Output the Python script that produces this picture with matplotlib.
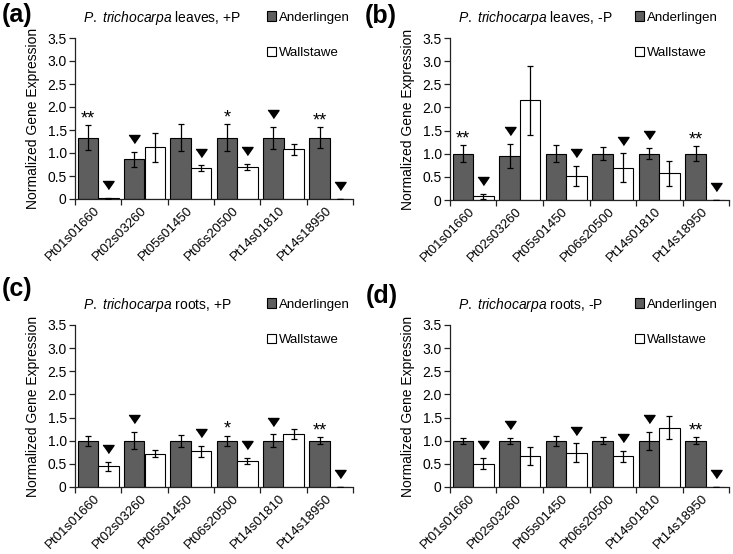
import matplotlib
matplotlib.use('Agg')
import matplotlib.pyplot as plt
from matplotlib.patches import Patch

plt.rcParams['font.family'] = ['Liberation Sans', 'DejaVu Sans']
plt.rcParams['mathtext.fontset'] = 'custom'
plt.rcParams['mathtext.rm'] = 'Liberation Sans'
plt.rcParams['mathtext.it'] = 'Liberation Sans:italic'

# ---------------- data ----------------
genes = ['Pt01s01660', 'Pt02s03260', 'Pt05s01450', 'Pt06s20500', 'Pt14s01810', 'Pt14s18950']
series = ['Anderlingen', 'Wallstawe']
yticks = [0, 0.5, 1.0, 1.5, 2.0, 2.5, 3.0, 3.5]
ytick_labels = ['0', '0.5', '1.0', '1.5', '2.0', '2.5', '3.0', '3.5']
panel_labels = ['(a)', '(b)', '(c)', '(d)']
titles = [r'$\it{P.\ trichocarpa}$ leaves, +P',
          r'$\it{P.\ trichocarpa}$ leaves, -P',
          r'$\it{P.\ trichocarpa}$ roots, +P',
          r'$\it{P.\ trichocarpa}$ roots, -P']

# (a) leaves +P
a_and = [1.33, 0.86, 1.33, 1.33, 1.33, 1.33]
a_and_err = [0.27, 0.16, 0.29, 0.29, 0.24, 0.23]
a_wal = [0.02, 1.12, 0.67, 0.69, 1.08, 0.01]
a_wal_err = [0.01, 0.32, 0.06, 0.065, 0.12, 0.0]
# marks: (gene index, series index, symbol)
a_marks = [(0, 0, '**'), (0, 1, 'v'), (1, 0, 'v'), (2, 1, 'v'), (3, 0, '*'),
           (3, 1, 'v'), (4, 0, 'v'), (5, 0, '**'), (5, 1, 'v')]

# (b) leaves -P
b_and = [1.0, 0.95, 1.0, 1.0, 1.0, 1.0]
b_and_err = [0.18, 0.25, 0.18, 0.145, 0.12, 0.165]
b_wal = [0.08, 2.15, 0.52, 0.70, 0.58, 0.0]
b_wal_err = [0.055, 0.75, 0.22, 0.305, 0.27, 0.0]
b_marks = [(0, 0, '**'), (0, 1, 'v'), (1, 0, 'v'), (2, 1, 'v'), (3, 1, 'v'),
           (4, 0, 'v'), (5, 0, '**'), (5, 1, 'v')]

# (c) roots +P
c_and = [1.0, 1.0, 1.0, 1.0, 1.0, 1.0]
c_and_err = [0.11, 0.185, 0.125, 0.11, 0.135, 0.075]
c_wal = [0.45, 0.72, 0.77, 0.565, 1.15, 0.0]
c_wal_err = [0.10, 0.08, 0.12, 0.07, 0.11, 0.0]
c_marks = [(0, 1, 'v'), (1, 0, 'v'), (2, 1, 'v'), (3, 0, '*'), (3, 1, 'v'),
           (4, 0, 'v'), (5, 0, '**'), (5, 1, 'v')]

# (d) roots -P
d_and = [1.0, 1.0, 1.0, 1.0, 0.985, 1.0]
d_and_err = [0.065, 0.065, 0.11, 0.07, 0.195, 0.07]
d_wal = [0.50, 0.67, 0.74, 0.66, 1.28, 0.0]
d_wal_err = [0.12, 0.20, 0.20, 0.12, 0.25, 0.0]
d_marks = [(0, 1, 'v'), (1, 0, 'v'), (2, 1, 'v'), (3, 1, 'v'), (4, 0, 'v'),
           (5, 0, '**'), (5, 1, 'v')]

panels = [
    (a_and, a_and_err, a_wal, a_wal_err, a_marks),
    (b_and, b_and_err, b_wal, b_wal_err, b_marks),
    (c_and, c_and_err, c_wal, c_wal_err, c_marks),
    (d_and, d_and_err, d_wal, d_wal_err, d_marks),
]

# ---------------- layout ----------------
W, H = 733, 554
fig = plt.figure(figsize=(W / 100, H / 100), dpi=100)

# axes boxes in pixels: left, right, top(3.5), bottom(0)
boxes = [(75, 353, 38, 199), (450, 729, 38, 200), (75, 353, 325, 487), (450, 729, 325, 487)]
label_pos = [(2, 15), (365, 16), (2, 289), (366, 296)]
legend_x = [0.69, 0.663, 0.69, 0.663]

dark = '#5e5e5e'
bw = 0.44
tri = [(-1, 0.72), (1, 0.72), (0, -0.72)]

for k, (box, data) in enumerate(zip(boxes, panels)):
    l, r, t, b = box
    ax = fig.add_axes([l / W, 1 - b / H, (r - l) / W, (b - t) / H])
    and_v, and_e, wal_v, wal_e, marks = data
    xs = [i + 0.5 for i in range(len(genes))]
    xa = [x - bw / 2 for x in xs]
    xw = [x + bw / 2 for x in xs]
    ax.bar(xa, and_v, width=bw, color=dark, edgecolor='black', linewidth=0.8, zorder=2)
    ax.bar(xw, wal_v, width=bw, color='white', edgecolor='black', linewidth=0.8, zorder=2)
    ax.errorbar(xa, and_v, yerr=and_e, fmt='none', ecolor='black', elinewidth=0.9,
                capsize=2, capthick=0.9, zorder=3)
    ax.errorbar(xw, wal_v, yerr=wal_e, fmt='none', ecolor='black', elinewidth=0.9,
                capsize=2, capthick=0.9, zorder=3)

    for gi, si, sym in marks:
        x = xa[gi] if si == 0 else xw[gi]
        top = (and_v[gi] + and_e[gi]) if si == 0 else (wal_v[gi] + wal_e[gi])
        if sym == 'v':
            ax.plot([x], [top + 0.28], marker=tri, markersize=8, color='black',
                    linestyle='none', zorder=4, clip_on=False)
        else:
            ax.annotate(sym, xy=(x, top), xytext=(0, 1.5), textcoords='offset points',
                        ha='center', va='baseline', fontsize=13, zorder=4)

    ax.set_xlim(0, 6)
    ax.set_ylim(0, 3.5)
    ax.set_yticks(yticks)
    ax.set_yticklabels(ytick_labels, fontsize=10)
    ax.set_xticks(range(0, 7))
    ax.set_xticklabels([])
    ax.set_xticks(xs, minor=True)
    ax.set_xticklabels(genes, minor=True, rotation=45, ha='right', va='center',
                       rotation_mode='anchor', fontsize=9.5)
    ax.tick_params(axis='x', which='minor', length=0, pad=7)
    ax.tick_params(axis='x', which='major', direction='out', length=4, width=0.9, color='#222222')
    ax.tick_params(axis='y', direction='out', length=4, width=0.9, color='#222222', pad=2)
    for s in ['top', 'right']:
        ax.spines[s].set_visible(False)
    for s in ['left', 'bottom']:
        ax.spines[s].set_linewidth(0.9)
        ax.spines[s].set_color('#222222')
    ax.set_ylabel('Normalized Gene Expression', fontsize=10, labelpad=5)
    ax.patch.set_visible(False)

    handles = [Patch(facecolor=dark, edgecolor='black', linewidth=0.8),
               Patch(facecolor='white', edgecolor='black', linewidth=0.8)]
    ax.legend(handles, series, loc='upper left', bbox_to_anchor=(legend_x[k], 1.165),
              frameon=False, borderpad=0, borderaxespad=0, handlelength=0.7,
              handleheight=0.7, handletextpad=0.2, labelspacing=1.75, fontsize=9.5)

    ax.text(8 / (r - l), 1 + 20 / (b - t), titles[k], transform=ax.transAxes,
            ha='left', va='center', fontsize=10)

    px, py = label_pos[k]
    fig.text(px / W, 1 - py / H, panel_labels[k], ha='left', va='center',
             fontsize=18, fontweight='bold')

fig.savefig('out.png', dpi=100)
